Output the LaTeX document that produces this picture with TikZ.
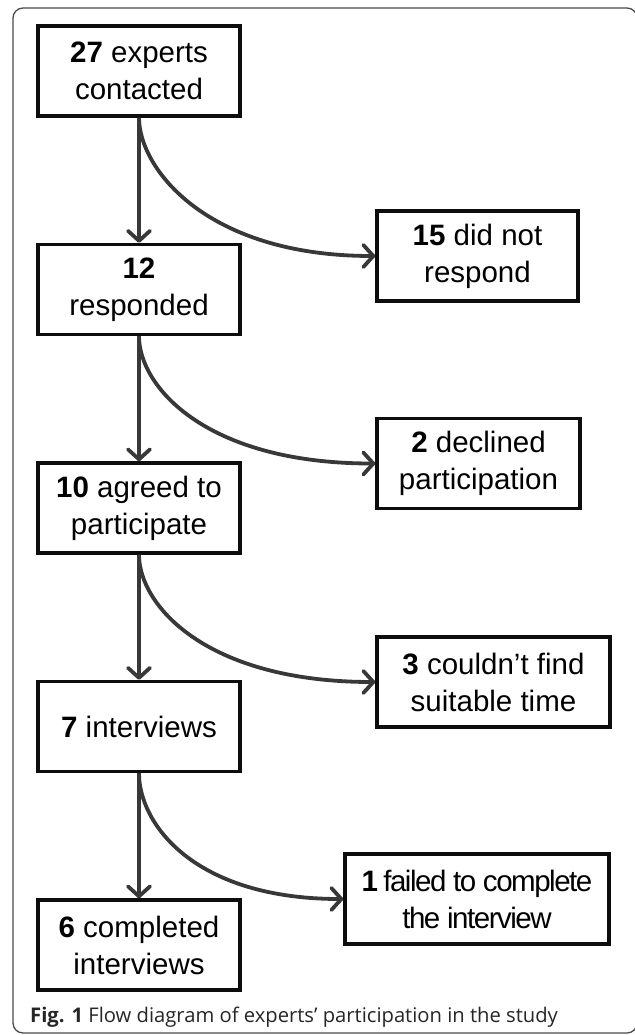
\documentclass[tikz,border=0pt]{standalone}
\usepackage{fontspec}
\setmainfont{Liberation Sans}
\newfontfamily\captionfont{Open Sans}
\newfontfamily\tightfont{Liberation Sans}[LetterSpace=-5]
\usetikzlibrary{positioning, arrows.meta}

\begin{document}
\begin{tikzpicture}[node distance=218.5pt]
        \tikzstyle{box} = [rectangle, minimum width=202pt, minimum height=90pt, text centered, align=center, draw=black!95, line width=3.5pt, font=\fontsize{29.5}{37}\selectfont]
        \tikzstyle{arrow} = [line width=3.8pt, draw=black!78, -{Straight Barb[length=10pt,width=22pt,round]}]

        \useasboundingbox (0pt,0pt) rectangle (634pt,-1035pt);
        \draw [rounded corners=10pt, line width=1.3pt, draw=black!70] (13pt,-8pt) rectangle (637pt,-1033pt);

        \node (contacted) [box] at (139pt,-71pt) {\textbf{27} experts\\contacted};
        \node (responded) [box, below of=contacted] {\textbf{12}\\responded};
        \node (agreed) [box, below of=responded] {\textbf{10} agreed to\\participate};
        \node (interviews) [box, below of=agreed] {\textbf{7} interviews};
        \node (completed) [box, below of=interviews] {\textbf{6} completed\\interviews};

        \node (noreply) [box, minimum width=201pt, right of=responded, xshift=120pt, yshift=33.5pt] {\textbf{15} did not\\respond};
        \node (declined) [box, minimum width=203pt, right of=agreed, xshift=121pt, yshift=44.5pt] {\textbf{2} declined\\participation};
        \node (notime) [box, minimum width=233pt, right of=interviews, xshift=136pt, yshift=44.5pt] {\textbf{3} couldn’t find\\suitable time};
        \node (failed) [box, minimum width=264pt, right of=completed, xshift=119.5pt, yshift=46pt, font=\tightfont\fontsize{29.5}{37}\selectfont] {\textbf{1} failed to complete\\the interview};

        \node (caption) [anchor=base west, inner sep=0pt, text=black!85, font=\captionfont\fontsize{20.2}{24}\selectfont] at (30pt,-1022pt) {\textbf{Fig. 1} Flow diagram of experts’ participation in the study};

        \draw [arrow] (contacted) -- (responded);
        \draw [arrow] (responded) -- (agreed);
        \draw [arrow] (agreed) -- (interviews);
        \draw [arrow] (interviews) -- (completed);

        \draw [arrow] (contacted.south) .. controls +(0,-50pt) and +(-170pt,0) .. (noreply.west);
        \draw [arrow] (responded.south) .. controls +(0,-50pt) and +(-170pt,0) .. (declined.west);
        \draw [arrow] (agreed.south) .. controls +(0,-50pt) and +(-170pt,0) .. (notime.west);
        \draw [arrow] (interviews.south) .. controls +(0,-50pt) and +(-150pt,0) .. (failed.west);
\end{tikzpicture}
\end{document}
